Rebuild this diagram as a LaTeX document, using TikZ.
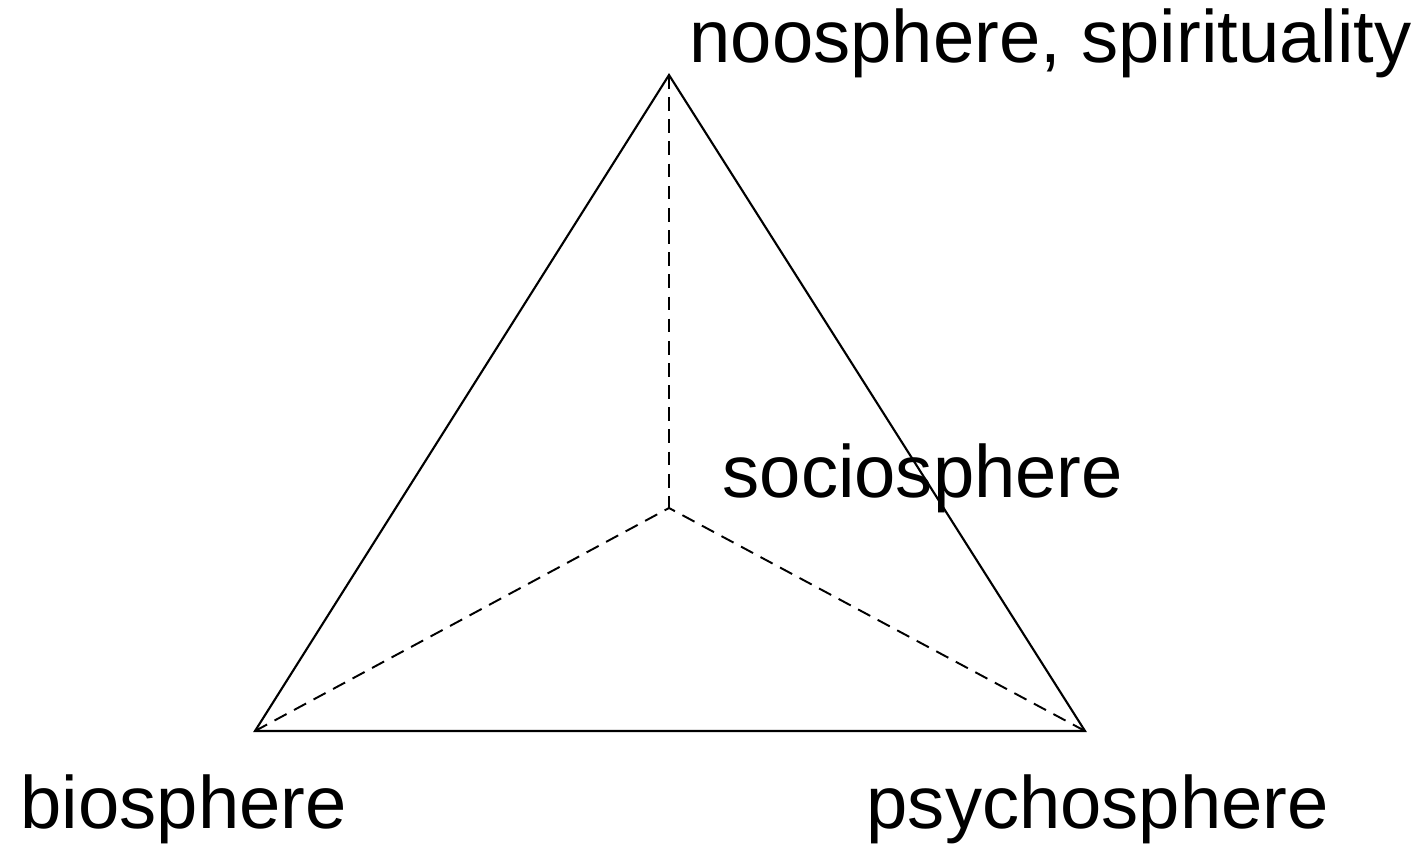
\documentclass[tikz,border=0pt]{standalone}
\usepackage{fontspec}
\setmainfont{Liberation Sans}
\usetikzlibrary{positioning}
\tikzset{
  edge/.style={black, line width=0.6pt},
  hidden/.style={black, line width=0.55pt, dash pattern=on 3.9pt off 2.4pt},
  sphere/.style={font=\fontsize{21.1}{25}\selectfont, inner sep=0pt, anchor=base west}
}

\begin{document}
\begin{tikzpicture}[x=0.01cm, y=-0.01cm]
  \useasboundingbox (0, 0) rectangle (1425, 848);

  % corners of the tetrahedron
  \coordinate (top) at (669, 75);
  \coordinate (left) at (255, 731);
  \coordinate (right) at (1085, 731);
  \coordinate (back) at (669, 508);

  % hidden edges
  \draw[hidden] (top) -- (back);
  \draw[hidden] (left) -- (back);
  \draw[hidden] (right) -- (back);

  % front face
  \draw[edge, line join=miter] (left) -- (top) -- (right) -- cycle;

  \node[sphere] (noo) at (689, 62) {noosphere, spirituality};
  \node[sphere] (socio) at (722, 497) {sociosphere};
  \node[sphere] (bio) at (20, 828) {biosphere};
  \node[sphere] (psycho) at (866, 828) {psychosphere};
\end{tikzpicture}
\end{document}
